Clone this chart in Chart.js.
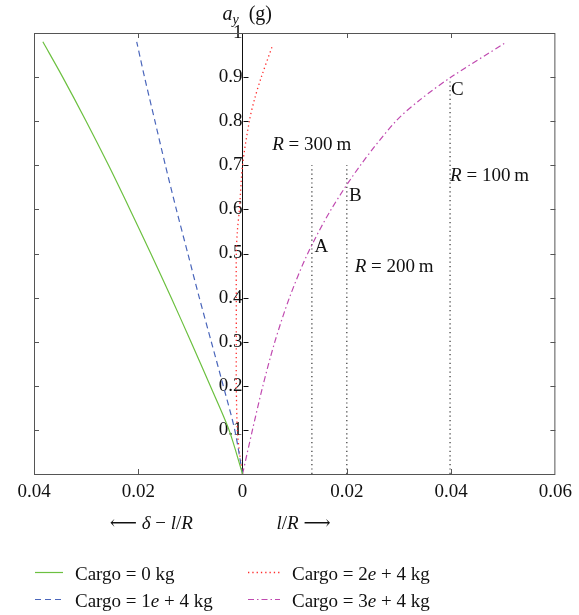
<!DOCTYPE html>
<html>
<head>
<meta charset="utf-8">
<script src="https://cdn.jsdelivr.net/npm/chart.js@4/dist/chart.umd.min.js"></script>
<style>
html, body { margin: 0; padding: 0; background: #fff; }
#wrap { width: 579px; height: 615px; position: relative; }
</style>
</head>
<body>
<div id="wrap"><canvas id="ayChart"></canvas></div>
<script>
// values: y = a_y (g), x = l/R (right side) or delta - l/R (left side, negative)
var cargo0Y = [0, 0.1, 0.2, 0.3, 0.4, 0.5, 0.6, 0.7, 0.8, 0.9, 0.98];
var cargo0X = [0, -0.0026, -0.0062, -0.0099, -0.0137, -0.0176, -0.0216, -0.0257, -0.0300, -0.0345, -0.0383];
var cargo1Y = [0, 0.1, 0.2, 0.3, 0.4, 0.5, 0.6, 0.7, 0.8, 0.9, 0.98];
var cargo1X = [0, -0.0015, -0.0037, -0.0060, -0.0083, -0.0105, -0.0127, -0.0148, -0.0168, -0.0188, -0.0203];
var cargo2Y = [0, 0.05, 0.1, 0.2, 0.3, 0.4, 0.5, 0.55, 0.6, 0.7, 0.8, 0.85, 0.9, 0.97];
var cargo2X = [0, -0.0006, -0.0010, -0.0012, -0.0012, -0.0012, -0.0012, -0.0010, -0.0006, 0.0000, 0.0013, 0.0023, 0.0036, 0.0057];
var cargo3Y = [0, 0.1, 0.2, 0.3, 0.4, 0.5, 0.6, 0.7, 0.8, 0.85, 0.9, 0.977];
var cargo3X = [0, 0.0019, 0.0039, 0.0062, 0.0090, 0.0125, 0.0170, 0.0226, 0.0294, 0.0342, 0.0400, 0.0503];

var seriesNames = ['Cargo = 0 kg', 'Cargo = 1e + 4 kg', 'Cargo = 2e + 4 kg', 'Cargo = 3e + 4 kg'];

// dotted guide lines for the three curve radii (l/R)
var radiusX = [0.0133, 0.02, 0.0398];
var radiusTop = [0.7, 0.7, 0.89];
var radiusNames = ['300', '200', '100'];
var pointNames = ['A', 'B', 'C'];

var xTicks = [-0.04, -0.02, 0, 0.02, 0.04, 0.06];
var yTicks = [0.1, 0.2, 0.3, 0.4, 0.5, 0.6, 0.7, 0.8, 0.9, 1];

var FONT = '"Liberation Serif", "DejaVu Serif", serif';

function pts(xs, ys) {
	var out = [];
	for (var i = 0; i < xs.length; i++) {
		out.push({x: xs[i], y: ys[i]});
	}
	return out;
}

// draw a run of [text, italic, size, dy] pieces, returns end x
function drawRuns(ctx, runs, x, y) {
	runs.forEach(function(r) {
		var size = r[2] || 19;
		ctx.font = (r[1] ? 'italic ' : '') + size + 'px ' + FONT;
		ctx.fillText(r[0], x, y + (r[3] || 0));
		x += ctx.measureText(r[0]).width;
	});
	return x;
}
function runsWidth(ctx, runs) {
	var w = 0;
	runs.forEach(function(r) {
		ctx.font = (r[1] ? 'italic ' : '') + (r[2] || 19) + 'px ' + FONT;
		w += ctx.measureText(r[0]).width;
	});
	return w;
}
// "Cargo = 2e + 4 kg" -> e in italics
function labelRuns(txt) {
	var parts = txt.split('e');
	if (parts.length < 2) return [[txt, false]];
	return [[parts[0], false], ['e', true], [parts[1], false]];
}

var datasets = [
	{label: seriesNames[0], data: pts(cargo0X, cargo0Y), borderColor: '#6cc040', borderWidth: 1.2, borderDash: []},
	{label: seriesNames[1], data: pts(cargo1X, cargo1Y), borderColor: '#4a66bb', borderWidth: 1.2, borderDash: [6, 4]},
	{label: seriesNames[2], data: pts(cargo2X, cargo2Y), borderColor: '#ff2a2a', borderWidth: 1.3, borderDash: [1.3, 3]},
	{label: seriesNames[3], data: pts(cargo3X, cargo3Y), borderColor: '#c04ab0', borderWidth: 1.2, borderDash: [6, 3, 1.5, 3]}
];
datasets.forEach(function(d) {
	d.showLine = true; d.pointRadius = 0; d.tension = 0.3; d.fill = false;
});
for (var i = 0; i < radiusX.length; i++) {
	datasets.push({
		label: 'R' + radiusNames[i],
		data: [{x: radiusX[i], y: 0}, {x: radiusX[i], y: radiusTop[i]}],
		showLine: true, pointRadius: 0, borderColor: '#333', borderWidth: 1.2, borderDash: [1.2, 3.2]
	});
}

var decorPlugin = {
	id: 'decor',
	afterDatasetsDraw: function(chart) {
		var ctx = chart.ctx, a = chart.chartArea, xs = chart.scales.x, ys = chart.scales.y;
		ctx.save();

		// frame with little inward ticks
		ctx.strokeStyle = '#555';
		ctx.lineWidth = 1;
		ctx.setLineDash([]);
		ctx.strokeRect(a.left + 0.5, a.top + 0.5, a.right - a.left - 1, a.bottom - a.top);
		var x0 = Math.round(xs.getPixelForValue(0)) + 0.5;
		ctx.beginPath();
		yTicks.forEach(function(v) {
			if (v >= 1) return;
			var py = Math.round(ys.getPixelForValue(v)) + 0.5;
			ctx.moveTo(a.left, py); ctx.lineTo(a.left + 5, py);
			ctx.moveTo(a.right, py); ctx.lineTo(a.right - 5, py);
		});
		xTicks.forEach(function(v) {
			if (v === 0 || v <= xs.min || v >= xs.max) return;
			var px = Math.round(xs.getPixelForValue(v)) + 0.5;
			ctx.moveTo(px, a.top); ctx.lineTo(px, a.top + 5);
			ctx.moveTo(px, a.bottom); ctx.lineTo(px, a.bottom - 5);
		});
		ctx.stroke();
		ctx.strokeStyle = '#111';
		ctx.beginPath();
		yTicks.forEach(function(v) {
			if (v >= 1) return;
			var py = Math.round(ys.getPixelForValue(v)) + 0.5;
			ctx.moveTo(x0, py); ctx.lineTo(x0 + 5, py);
		});
		ctx.stroke();

		ctx.fillStyle = '#111';
		ctx.textBaseline = 'alphabetic';
		ctx.textAlign = 'left';

		// axis title on top
		drawRuns(ctx, [['a', true, 20], ['y', true, 14, 4], ['  (g)', false, 20]], x0 - 21, 20);

		// text next to the guide lines
		var px = function(v) { return xs.getPixelForValue(v); };
		var py = function(v) { return ys.getPixelForValue(v); };
		var ptx = [0.0138, 0.0204, 0.0400], pty = [0.519, 0.636, 0.876];
		for (var i = 0; i < pointNames.length; i++) {
			drawRuns(ctx, [[pointNames[i], false]], px(ptx[i]), py(pty[i]) + 7);
		}
		var rx = [0.0057, 0.0215, 0.0398], ry = [0.75, 0.474, 0.68];
		for (var j = 0; j < radiusNames.length; j++) {
			drawRuns(ctx, [['R', true], [' = ' + radiusNames[j] + '\u2009m', false]], px(rx[j]), py(ry[j]) + 7);
		}

		// axis names below the tick labels
		var left = [['\u27F5 ', false], ['\u03B4', true], [' \u2212 ', false], ['l', true], ['/', false], ['R', true]];
		var right = [['l', true], ['/', false], ['R', true], [' \u27F6', false]];
		drawRuns(ctx, left, px(-0.0175) - runsWidth(ctx, left) / 2, 529);
		drawRuns(ctx, right, px(0.0117) - runsWidth(ctx, right) / 2, 529);

		// legend in two columns
		var cols = [[35, 63, 75], [248, 280, 292]];
		var rows = [572, 599];
		var order = [[0, 0, 0], [1, 0, 1], [2, 1, 0], [3, 1, 1]];
		order.forEach(function(o) {
			var ds = chart.data.datasets[o[0]];
			var c = cols[o[1]], ly = rows[o[2]] + 0.5;
			ctx.strokeStyle = ds.borderColor;
			ctx.lineWidth = ds.borderWidth;
			ctx.setLineDash(ds.borderDash);
			ctx.beginPath();
			ctx.moveTo(c[0], ly); ctx.lineTo(c[1], ly);
			ctx.stroke();
			ctx.setLineDash([]);
			drawRuns(ctx, labelRuns(ds.label), c[2], ly + 7);
		});

		ctx.restore();
	}
};

var chart = new Chart(document.getElementById('ayChart'), {
	type: 'scatter',
	data: {datasets: datasets},
	options: {
		responsive: true,
		maintainAspectRatio: false,
		animation: false,
		events: [],
		layout: {padding: {left: 34, right: 15, top: 33, bottom: 0}},
		plugins: {legend: {display: false}, tooltip: {enabled: false}},
		scales: {
			x: {
				type: 'linear', position: 'bottom',
				min: -0.04, max: 0.06,
				afterBuildTicks: function(scale) {
					scale.ticks = xTicks.map(function(v) { return {value: v}; });
				},
				afterFit: function(scale) { scale.height = 141; },
				grid: {display: false, drawTicks: false},
				border: {display: false},
				ticks: {
					padding: 7,
					color: '#111',
					font: {family: FONT, size: 19},
					callback: function(v) { return Math.abs(v) < 1e-9 ? '0' : Math.abs(v).toFixed(2); }
				}
			},
			y: {
				type: 'linear', position: {x: 0},
				min: 0, max: 1,
				afterBuildTicks: function(scale) {
					scale.ticks = yTicks.map(function(v) { return {value: v}; });
				},
				grid: {drawOnChartArea: false, drawTicks: false},
				border: {display: true, color: '#111', width: 1},
				ticks: {
					padding: 7,
					color: '#111',
					font: {family: FONT, size: 19},
					callback: function(v) { return String(+v.toFixed(1)); }
				}
			}
		}
	},
	plugins: [decorPlugin]
});
</script>
</body>
</html>
